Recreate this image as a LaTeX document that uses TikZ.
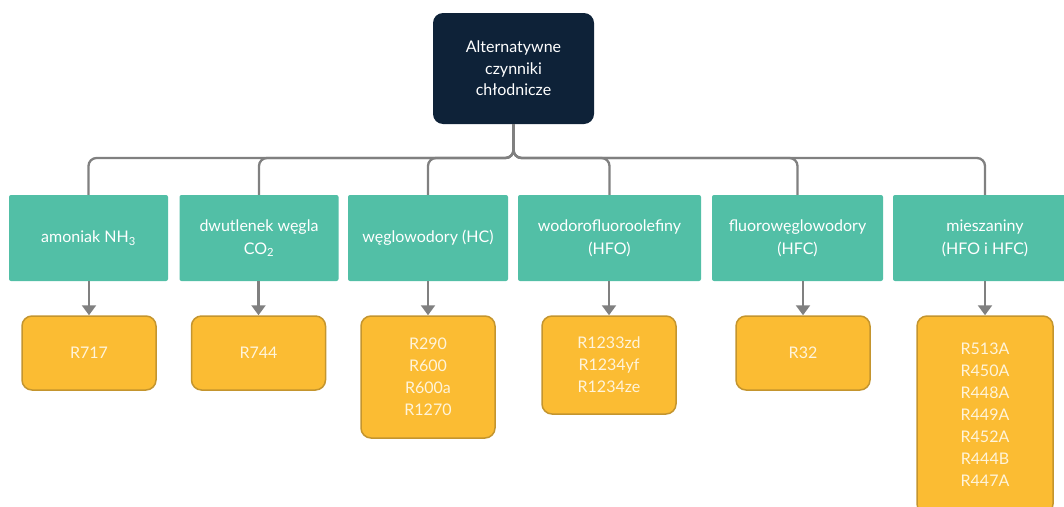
\documentclass[tikz,border=0pt]{standalone}
\usepackage{fontspec}
\setmainfont{Lato}
\usetikzlibrary{arrows.meta}
\definecolor{navy}{HTML}{0E2238}
\definecolor{tealbox}{HTML}{52BFA6}
\definecolor{goldfill}{HTML}{FBBC33}
\definecolor{golddraw}{HTML}{C4952E}
\definecolor{linegray}{HTML}{808080}
\definecolor{cream}{HTML}{FFF4DA}
\tikzset{
  rootbox/.style={fill=navy, rounded corners=10pt, text=white, align=center,
    minimum width=161pt, minimum height=111pt, inner sep=0pt,
    font=\fontsize{16}{21.5}\selectfont},
  groupbox/.style={fill=tealbox, rounded corners=2pt, text=white, align=center,
    minimum height=86pt, inner sep=0pt, font=\fontsize{16}{23}\selectfont},
  itembox/.style={fill=goldfill, draw=golddraw, line width=1.5pt, rounded corners=10pt,
    text=cream, align=center, minimum width=134pt, inner sep=0pt,
    font=\fontsize{16}{22}\selectfont},
  conn/.style={draw=linegray, line width=2.3pt, rounded corners=8pt},
  arr/.style={draw=linegray, line width=2.3pt, -{Triangle[width=14pt,length=10pt]}}
}
\begin{document}
\begin{tikzpicture}[x=1pt,y=-1pt]
\useasboundingbox (0,0) rectangle (1064,506);
\clip (0,0) rectangle (1064,506);

% root
\node[rootbox] (root) at (513.5,68.5) {Alternatywne\\czynniki\\chłodnicze};

% groups
\node[groupbox, minimum width=159pt] (t1) at (88.5,238) {amoniak NH\textsubscript{3}};
\node[groupbox, minimum width=159pt] (t2) at (259,238) {dwutlenek węgla\\CO\textsubscript{2}};
\node[groupbox, minimum width=160pt] (t3) at (428,238) {węglowodory (HC)};
\node[groupbox, minimum width=183pt] (t4) at (609.5,238) {wodorofluoroolefiny\\(HFO)};
\node[groupbox, minimum width=171pt] (t5) at (797.5,238) {fluorowęglowodory\\(HFC)};
\node[groupbox, minimum width=184pt] (t6) at (985,238) {mieszaniny\\(HFO i HFC)};

% refrigerants
\node[itembox, minimum height=74pt] (o1) at (89,353) {R717};
\node[itembox, minimum height=74pt] (o2) at (258.5,353) {R744};
\node[itembox, minimum height=122pt] (o3) at (428,377) {R290\\R600\\R600a\\R1270};
\node[itembox, minimum height=98pt] (o4) at (609,365) {R1233zd\\R1234yf\\R1234ze};
\node[itembox, minimum height=74pt] (o5) at (803,353) {R32};
\node[itembox, minimum height=198pt, minimum width=136pt] (o6) at (985,415)
  {R513A\\R450A\\R448A\\R449A\\R452A\\R444B\\R447A};

% tree connectors
\coordinate (bus) at (0,158);
\foreach \t in {t1,t2,t3,t4,t5,t6}
  \draw[conn] (root.south) -- (root.south |- bus) -| (\t.north);

% arrows to the refrigerants
\foreach \t/\o in {t1/o1,t2/o2,t3/o3,t4/o4,t5/o5,t6/o6}
  \draw[arr] (\o.north |- \t.south) -- (\o.north);
\end{tikzpicture}
\end{document}
